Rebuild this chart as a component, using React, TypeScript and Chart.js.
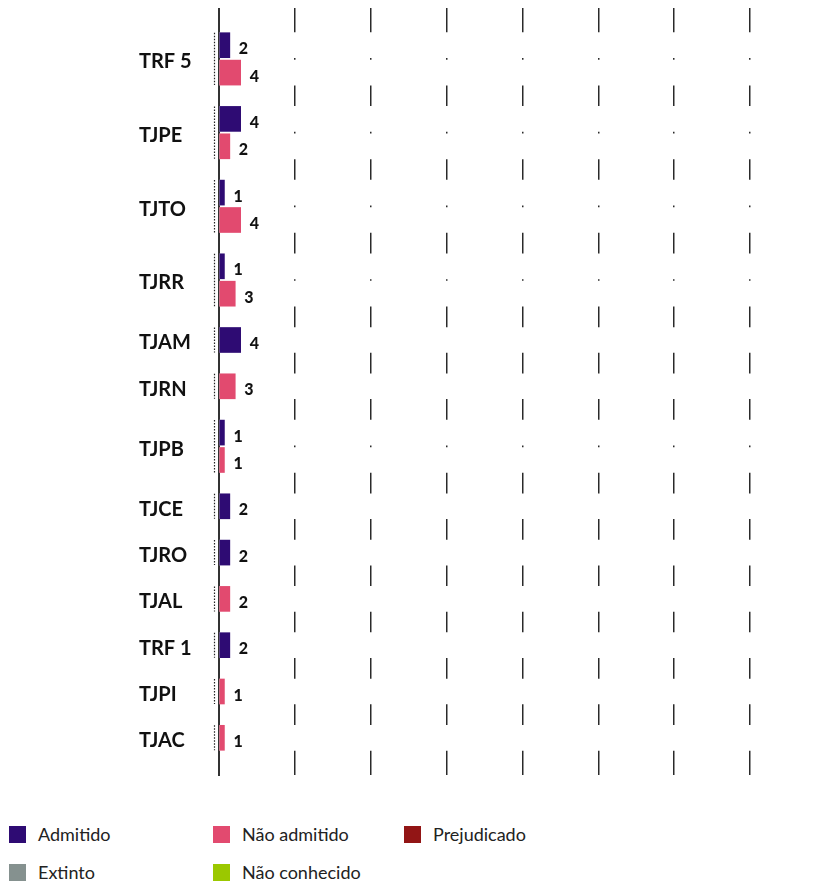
import React, { useEffect, useRef } from "react";
import { Chart, registerables } from "chart.js";

Chart.register(...registerables);

// ---- data ----
const categories = ["TRF 5", "TJPE", "TJTO", "TJRR", "TJAM", "TJRN", "TJPB", "TJCE", "TJRO", "TJAL", "TRF 1", "TJPI", "TJAC"];
const seriesNames = ["Admitido", "Não admitido", "Prejudicado", "Extinto", "Não conhecido"];
const admitido: (number | null)[] = [2, 4, 1, 1, 4, null, 1, 2, 2, null, 2, null, null];
const naoAdmitido: (number | null)[] = [4, 2, 4, 3, null, 3, 1, null, null, 2, null, 1, 1];
const prejudicado: (number | null)[] = [null, null, null, null, null, null, null, null, null, null, null, null, null];
const extinto: (number | null)[] = [null, null, null, null, null, null, null, null, null, null, null, null, null];
const naoConhecido: (number | null)[] = [null, null, null, null, null, null, null, null, null, null, null, null, null];
const xMax = 98;
const xStep = 14;

// ---- style ----
const seriesColors = ["#2e0b73", "#e24a6f", "#921515", "#85918f", "#9bc800"];
const FONT = "Lato, 'Noto Sans', sans-serif";
const GAP = 0.69; // gap between categories (slot units)
const EDGE = 0.858; // outer padding (slot units)
const BAR = 25;

const seriesValues = [admitido, naoAdmitido, prejudicado, extinto, naoConhecido];

// build slot layout from data (only non-null values take a slot)
let cursor = 0;
const slotPos: (number | null)[][] = seriesValues.map(() => []);
const catCenters: number[] = [];
const catSlots: number[][] = [];
categories.forEach((_c, ci) => {
  if (ci > 0) cursor += GAP;
  const start = cursor;
  const slots: number[] = [];
  seriesValues.forEach((vals, si) => {
    if (vals[ci] != null) {
      slotPos[si][ci] = cursor + 0.5;
      slots.push(cursor + 0.5);
      cursor += 1;
    } else {
      slotPos[si][ci] = null;
    }
  });
  catCenters.push((start + cursor) / 2);
  catSlots.push(slots);
});
const yMin = -EDGE;
const yMax = cursor + EDGE;

const valueLabels = {
  id: "valueLabels",
  afterDatasetsDraw(chart: any) {
    const ctx = chart.ctx;
    ctx.save();
    ctx.font = `900 16px ${FONT}`;
    ctx.fillStyle = "#111";
    ctx.textBaseline = "middle";
    ctx.textAlign = "left";
    chart.data.datasets.forEach((ds: any, di: number) => {
      if (ds.label === "_band") return;
      const meta = chart.getDatasetMeta(di);
      meta.data.forEach((el: any, i: number) => {
        const v = ds.data[i].x;
        ctx.fillText(String(v), el.x + 9, el.y + 4);
      });
    });
    ctx.restore();
  },
};

const brackets = {
  id: "brackets",
  afterDatasetsDraw(chart: any) {
    const ctx = chart.ctx;
    const y = chart.scales.y;
    const x = chart.chartArea.left - 4.5;
    ctx.save();
    ctx.strokeStyle = "#222";
    ctx.lineWidth = 1.2;
    ctx.setLineDash([1.5, 1.5]);
    catSlots.forEach((slots) => {
      if (!slots.length) return;
      const top = y.getPixelForValue(slots[0]) - BAR / 2;
      const bottom = y.getPixelForValue(slots[slots.length - 1]) + BAR / 2;
      ctx.beginPath();
      ctx.moveTo(x, top);
      ctx.lineTo(x, bottom);
      ctx.stroke();
    });
    ctx.restore();
  },
};

export default function App() {
  const ref = useRef<HTMLCanvasElement>(null);

  useEffect(() => {
    if (!ref.current) return;
    const dataSets: any[] = seriesValues.map((vals, si) => ({
      label: seriesNames[si],
      data: vals
        .map((v, ci) => (v == null ? null : { x: v, y: slotPos[si][ci] }))
        .filter((p) => p != null),
      backgroundColor: seriesColors[si],
      barThickness: BAR,
      grouped: false,
      order: 0,
    }));
    const bandData: any[] = [];
    catSlots.forEach((slots) => slots.forEach((s) => bandData.push({ x: [0, xMax * 1.05], y: s })));
    dataSets.push({
      label: "_band",
      data: bandData,
      backgroundColor: "#ffffff",
      barThickness: BAR,
      grouped: false,
      order: 1,
      clip: 6,
    });

    const chart = new Chart(ref.current, {
      type: "bar",
      data: { datasets: dataSets },
      plugins: [valueLabels, brackets],
      options: {
        indexAxis: "y",
        animation: false,
        responsive: false,
        maintainAspectRatio: false,
        layout: { padding: { left: 131, right: 61, top: 0, bottom: 13 } },
        plugins: { legend: { display: false }, tooltip: { enabled: false } },
        scales: {
          x: {
            type: "linear",
            min: 0,
            max: xMax,
            ticks: { display: false, stepSize: xStep },
            grid: { color: "#2a2a2a", lineWidth: 1.5, drawTicks: false },
            border: { display: false },
            afterFit: (axis: any) => {
              axis.height = 0;
              axis.paddingLeft = 0;
              axis.paddingRight = 0;
            },
          },
          y: {
            type: "linear",
            reverse: true,
            offset: false,
            min: yMin,
            max: yMax,
            afterBuildTicks: (axis: any) => {
              axis.ticks = catCenters.map((v) => ({ value: v }));
            },
            afterFit: (axis: any) => {
              axis.width = 80;
              axis.paddingTop = 0;
              axis.paddingBottom = 0;
            },
            ticks: {
              autoSkip: false,
              crossAlign: "far",
              padding: 0,
              labelOffset: 3,
              color: "#111",
              font: { family: FONT, size: 20, weight: "bold" },
              callback: (_v: any, i: number) => categories[i],
            },
            grid: { display: false, drawTicks: false, offset: false },
            border: { display: true, color: "#333", width: 2 },
          },
        },
      } as any,
    });
    return () => chart.destroy();
  }, []);

  return (
    <div style={{ position: "relative", width: 819, height: 886, fontFamily: FONT }}>
      <style>{`html,body{margin:0;padding:0;overflow:hidden;}`}</style>
      <canvas
        ref={ref}
        width={803}
        height={780}
        style={{ display: "block", position: "absolute", left: 8, top: 8 }}
      />
      <div
        style={{
          position: "absolute",
          left: 9,
          top: 823,
          display: "grid",
          gridTemplateColumns: "204px 191px auto",
          rowGap: 16,
        }}
      >
        {seriesNames.map((n, i) => (
          <div key={n} style={{ display: "flex", alignItems: "center", height: 22 }}>
            <span style={{ width: 17, height: 17, background: seriesColors[i], display: "inline-block", flex: "none" }} />
            <span style={{ marginLeft: 12, fontSize: 18, color: "#222", lineHeight: "22px", whiteSpace: "nowrap" }}>{n}</span>
          </div>
        ))}
      </div>
    </div>
  );
}
